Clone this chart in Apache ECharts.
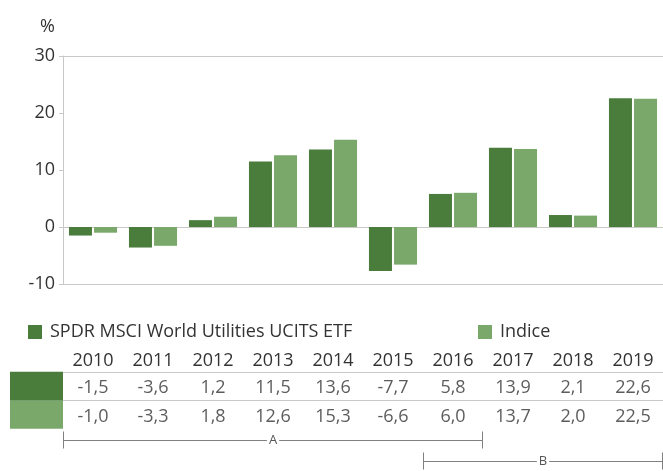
<!DOCTYPE html>
<html>
<head>
<meta charset="utf-8">
<script src="https://cdn.jsdelivr.net/npm/echarts@6/dist/echarts.min.js"></script>
<style>
  html, body { margin: 0; padding: 0; background: #fff; }
  #chart { width: 663px; height: 471px; }
</style>
</head>
<body>
<div id="chart"></div>
<script>
const years = ['2010', '2011', '2012', '2013', '2014', '2015', '2016', '2017', '2018', '2019']
const etfName = 'SPDR MSCI World Utilities UCITS ETF'
const indexName = 'Indice'
const etfValues = [-1.5, -3.6, 1.2, 11.5, 13.6, -7.7, 5.8, 13.9, 2.1, 22.6]
const indexValues = [-1.0, -3.3, 1.8, 12.6, 15.3, -6.6, 6.0, 13.7, 2.0, 22.5]
const bracketNames = ['A', 'B']
const bracketFrom = ['2010', '2016']
const bracketTo = ['2016', '2019']

const darkGreen = '#4a7c3b'
const lightGreen = '#7aa86b'
const gridGray = '#c8c8c8'
const textColor = '#333333'
const font = '"Open Sans", "Noto Sans", sans-serif'
const fs = 18

const fmt = v => v.toFixed(1).replace('.', ',')

const tableRow = (values, row) => values.map((v, i) => [i, row, v])

const chart = echarts.init(document.getElementById('chart'))

const options = {
  backgroundColor: '#fff',
  animation: false,
  textStyle: { fontFamily: font, color: textColor },
  legend: [
    {
      left: 23, top: 318, itemWidth: 14, itemHeight: 14,
      icon: 'rect', selectedMode: false,
      data: [etfName],
      textStyle: { fontSize: fs, color: textColor, fontFamily: font, padding: [0, 0, 0, 3] }
    },
    {
      left: 473, top: 318, itemWidth: 14, itemHeight: 14,
      icon: 'rect', selectedMode: false,
      data: [indexName],
      textStyle: { fontSize: fs, color: textColor, fontFamily: font, padding: [0, 0, 0, 3] }
    }
  ],
  grid: [
    { left: 63, right: 0, top: 56, height: 228 },
    { left: 63, right: 0, top: 372, height: 57 },
    { left: 63, right: 0, top: 429.5, height: 50 }
  ],
  xAxis: [
    {
      gridIndex: 0, type: 'category', data: years,
      axisLine: { lineStyle: { color: gridGray } },
      axisTick: { show: false }, axisLabel: { show: false }
    },
    {
      gridIndex: 1, type: 'category', data: years, position: 'top',
      axisLine: { lineStyle: { color: gridGray } },
      axisTick: { show: false },
      axisLabel: { fontSize: fs, color: textColor, fontFamily: font, margin: 2 }
    },
    {
      gridIndex: 2, type: 'value', min: 0, max: years.length, show: false
    }
  ],
  yAxis: [
    {
      gridIndex: 0, type: 'value', min: -10, max: 30, interval: 10,
      name: '%', nameLocation: 'end', nameGap: 20,
      nameTextStyle: { fontSize: fs, color: textColor, fontFamily: font, align: 'right', padding: [0, 8, 0, 0] },
      axisLine: { show: true, lineStyle: { color: gridGray } },
      axisTick: { show: true, length: 4, lineStyle: { color: gridGray } },
      axisLabel: { fontSize: fs, color: textColor, fontFamily: font, margin: 8 },
      splitLine: { show: false }
    },
    {
      gridIndex: 1, type: 'category', data: [etfName, indexName], inverse: true,
      axisLine: { show: false }, axisTick: { show: false },
      axisLabel: {
        margin: 0,
        formatter: (v, i) => i === 0 ? '{a|}' : '{b|}',
        rich: {
          a: { backgroundColor: darkGreen, width: 53, height: 29 },
          b: { backgroundColor: lightGreen, width: 53, height: 28 }
        }
      },
      splitLine: { show: true, showMinLine: false, showMaxLine: false, lineStyle: { color: gridGray } }
    },
    {
      gridIndex: 2, type: 'category', data: bracketNames, inverse: true, show: false
    }
  ],
  series: [
    {
      name: etfName, type: 'bar', xAxisIndex: 0, yAxisIndex: 0,
      data: etfValues, barWidth: 23, barGap: '9%',
      itemStyle: { color: darkGreen },
      markLine: {
        silent: true, symbol: 'none', label: { show: false },
        lineStyle: { color: gridGray, type: 'solid', width: 1 },
        data: [{ yAxis: 30 }, { yAxis: -10 }]
      }
    },
    {
      name: indexName, type: 'bar', xAxisIndex: 0, yAxisIndex: 0,
      data: indexValues, barWidth: 23,
      itemStyle: { color: lightGreen }
    },
    {
      type: 'scatter', xAxisIndex: 1, yAxisIndex: 1, silent: true,
      symbolSize: 1, itemStyle: { color: 'rgba(0,0,0,0)' },
      data: tableRow(etfValues, 0).concat(tableRow(indexValues, 1)),
      label: {
        show: true, position: 'inside', offset: [0, 2],
        fontSize: fs, color: textColor, fontFamily: font,
        formatter: p => fmt(p.value[2])
      }
    },
    {
      type: 'custom', xAxisIndex: 2, yAxisIndex: 2, silent: true,
      data: bracketNames.map((n, i) => [years.indexOf(bracketFrom[i]), years.indexOf(bracketTo[i]) + 1, i]),
      renderItem: (params, api) => {
        const p0 = api.coord([api.value(0), api.value(2)])
        const p1 = api.coord([api.value(1), api.value(2)])
        const y = Math.round(p0[1]) + 0.5
        const stroke = { stroke: '#808080', lineWidth: 1 }
        return {
          type: 'group',
          children: [
            { type: 'line', shape: { x1: p0[0] + 0.5, y1: y, x2: p1[0] - 0.5, y2: y }, style: stroke },
            { type: 'line', shape: { x1: p0[0] + 0.5, y1: y - 9, x2: p0[0] + 0.5, y2: y + 8 }, style: stroke },
            { type: 'line', shape: { x1: p1[0] - 0.5, y1: y - 9, x2: p1[0] - 0.5, y2: y + 8 }, style: stroke },
            {
              type: 'text',
              style: {
                x: (p0[0] + p1[0]) / 2, y: y,
                text: bracketNames[params.dataIndex],
                align: 'center', verticalAlign: 'middle',
                fontSize: 13, fontFamily: font, fill: '#555555',
                backgroundColor: '#fff', padding: [0, 2]
              }
            }
          ]
        }
      }
    }
  ]
}

chart.setOption(options)
</script>
</body>
</html>
